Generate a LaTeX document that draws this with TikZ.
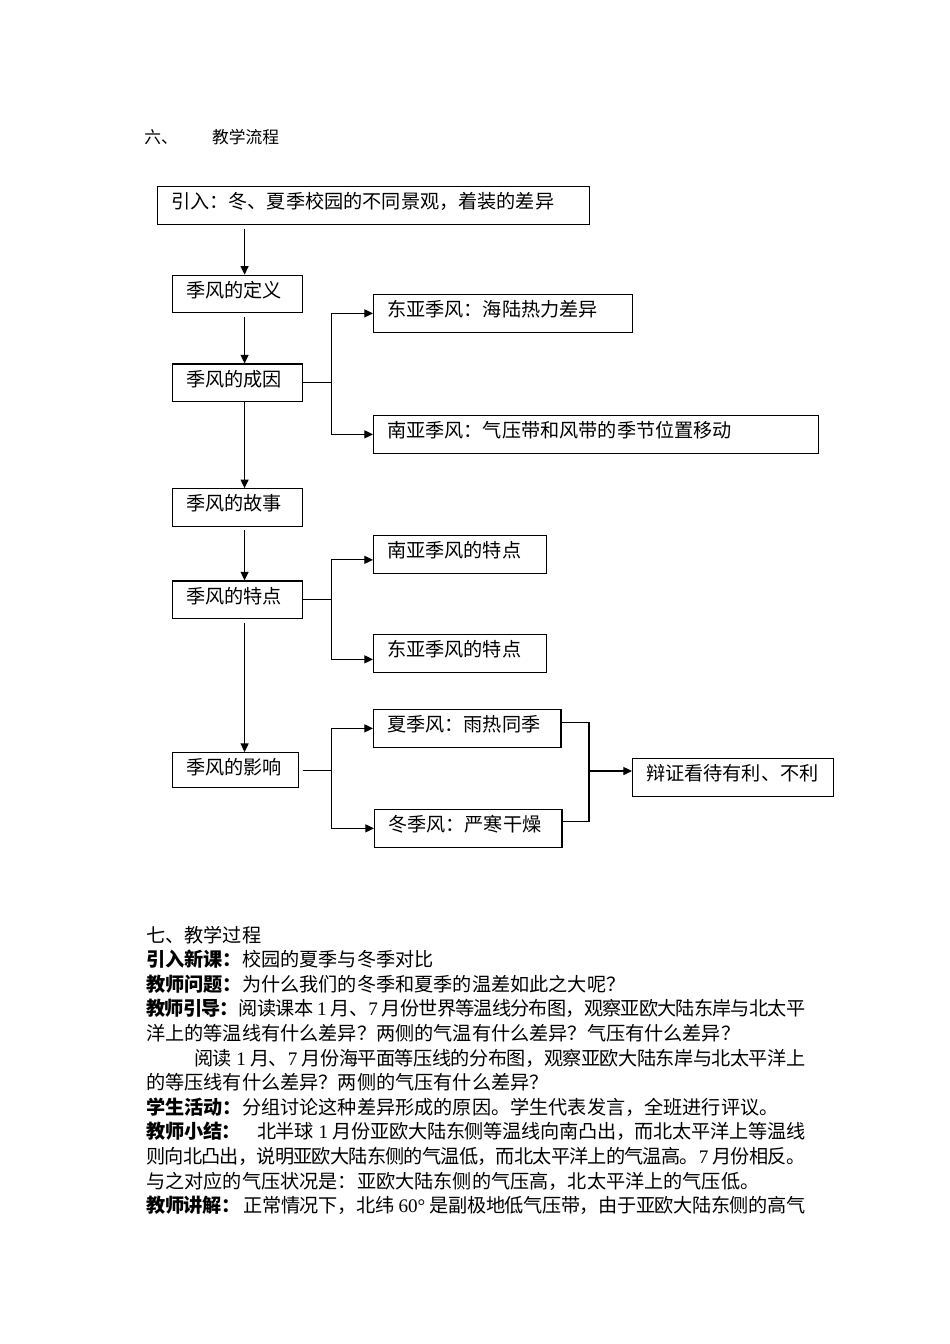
\documentclass[tikz,border=0pt]{standalone}
\usepackage{fontspec}
\setmainfont{Noto Sans CJK SC}
\newfontfamily\latinfont{Liberation Serif}
\usepackage{tikz}
\usetikzlibrary{arrows.meta}
\usetikzlibrary{positioning}
% glue between CJK characters, so that full lines can be set to the text width
\count255="4E00
\loop
  \XeTeXcharclass\count255=1
  \advance\count255 by 1
\ifnum\count255<"A000 \repeat
\XeTeXcharclass"FF0C=3 \XeTeXcharclass"FF1A=3 \XeTeXcharclass"FF1F=3
\XeTeXcharclass"3001=3 \XeTeXcharclass"3002=3
\XeTeXinterchartokenstate=1
\XeTeXinterchartoks 1 1 = {\hskip 0pt plus 1.5pt minus 1pt}
\XeTeXinterchartoks 1 3 = {\hskip 0pt plus 1.5pt minus 1pt}
\XeTeXinterchartoks 3 1 = {\hskip 0pt plus 1.5pt minus 1pt}
\XeTeXinterchartoks 3 3 = {\hskip 0pt plus 1.5pt minus 1pt}
\newcommand{\pu}{0.6263pt}
\newdimen\fullwd \fullwd=412.7pt
\newdimen\indentwd \indentwd=382.7pt
\newcommand{\digit}[1]{{\latinfont #1}}
\tikzset{flow-line/.style={line width=0.75pt}}
\tikzset{flow-arrow/.style={flow-line, -{Triangle[length=5.4pt, width=5pt]}}}
\tikzset{flow-box/.style={
    draw,
    line width=0.75pt,
    inner xsep=8.45pt,
    inner ysep=0,
    text height=13.8pt,
    text depth=9.7pt,
    anchor=north west,
    font=\fontsize{12pt}{14pt}\selectfont
}}
\tikzset{body-line/.style={anchor=base west, inner sep=0, font=\fontsize{12pt}{14pt}\selectfont}}
\begin{document}
\begin{tikzpicture}[x=\pu, y=-\pu]
            \useasboundingbox (0,0) rectangle (950,1344);
            \node[body-line, font=\fontsize{10.5pt}{12pt}\selectfont] (flow-no) at (144,143.1) {六、};
            \node[body-line, font=\fontsize{10.5pt}{12pt}\selectfont] (flow-title) at (211.7,143.1) {教学流程};

            % main column
            \node[flow-box, text width=253.7pt] (intro) at (157,186) {引入：冬、夏季校园的不同景观，着装的差异};
            \node[flow-box, text width=64.5pt, below=50*\pu of intro.south west, anchor=north west, xshift=15*\pu] (def) {季风的定义};
            \node[flow-box, text width=64.5pt, below=50*\pu of def.south west, anchor=north west] (cause) {季风的成因};
            \node[flow-box, text width=64.5pt, below=86*\pu of cause.south west, anchor=north west] (story) {季风的故事};
            \node[flow-box, text width=64.5pt, below=53.5*\pu of story.south west, anchor=north west] (feat) {季风的特点};
            \node[flow-box, text width=62pt, text depth=8.2pt, below=133*\pu of feat.south west, anchor=north west] (effect) {季风的影响};

            % branches
            \node[flow-box, text width=145.3pt] (eastcause) at (373,294) {东亚季风：海陆热力差异};
            \node[flow-box, text width=261.8pt] (southcause) at (373,415) {南亚季风：气压带和风带的季节位置移动};
            \node[flow-box, text width=91.4pt] (southfeat) at (373,535) {南亚季风的特点};
            \node[flow-box, text width=91.4pt] (eastfeat) at (373,634) {东亚季风的特点};
            \node[flow-box, text width=100.5pt] (summer) at (373,709) {夏季风：雨热同季};
            \node[flow-box, text width=100.5pt] (winter) at (374,809) {冬季风：严寒干燥};
            \node[flow-box, text width=109pt] (verdict) at (632,758) {辩证看待有利、不利};
            \coordinate (merge) at (589,771);

            \draw[flow-arrow, shorten <=4*\pu] ([xshift=7*\pu]def.north |- intro.south) -- ([xshift=7*\pu]def.north);
            \draw[flow-arrow, shorten <=4*\pu] ([xshift=7*\pu]def.south) -- ([xshift=7*\pu]cause.north);
            \draw[flow-arrow] ([xshift=7*\pu]cause.south) -- ([xshift=7*\pu]story.north);
            \draw[flow-arrow, shorten <=3*\pu] ([xshift=7*\pu]story.south) -- ([xshift=7*\pu]feat.north);
            \draw[flow-arrow, shorten <=4*\pu] ([xshift=7*\pu]feat.south) -- ([xshift=7*\pu]feat.south |- effect.north);

            \draw[flow-arrow] (cause.east) -- ++(28,0) |- (eastcause.west);
            \draw[flow-arrow] (cause.east) -- ++(28,0) |- (southcause.west);
            \draw[flow-arrow] (feat.east) -- ++(28,0) |- ([yshift=-5.5*\pu]southfeat.west);
            \draw[flow-arrow] (feat.east) -- ++(28,0) |- ([yshift=-6*\pu]eastfeat.west);
            \draw[flow-arrow, shorten <=3.5*\pu] (effect.east) -- ++(32,0) |- (summer.west);
            \draw[flow-arrow, shorten <=3.5*\pu] (effect.east) -- ++(32,0) |- (winter.west);

            \draw[flow-line] ([yshift=6*\pu]summer.east) -| (merge);
            \draw[flow-line] ([yshift=7*\pu]winter.east) -| (merge);
            \draw[flow-arrow] (merge) -- (merge -| verdict.west);

            % teaching process
            \node[body-line] (proc-title) at (146,942) {七、教学过程};
            \node[body-line] (lead-in) at (146,966.6) {\textbf{引入新课：}校园的夏季与冬季对比};
            \node[body-line] (question) at (146,991.2) {\textbf{教师问题：}为什么我们的冬季和夏季的温差如此之大呢？};
            \node[body-line] (guide-a) at (146,1015.8) {\hbox to\fullwd{\textbf{教师引导：}阅读课本\digit{\ 1\ }月、\digit{7\ }月份世界等温线分布图，观察亚欧大陆东岸与北太平}};
            \node[body-line] (guide-b) at (146,1040.4) {洋上的等温线有什么差异？两侧的气温有什么差异？气压有什么差异？};
            \node[body-line] (guide-c) at (194,1065) {\hbox to\indentwd{阅读\digit{\ 1\ }月、\digit{7\ }月份海平面等压线的分布图，观察亚欧大陆东岸与北太平洋上}};
            \node[body-line] (guide-d) at (146,1089.6) {的等压线有什么差异？两侧的气压有什么差异？};
            \node[body-line] (activity) at (146,1114.2) {\textbf{学生活动：}分组讨论这种差异形成的原因。学生代表发言，全班进行评议。};
            \node[body-line] (summary-a) at (146,1138.8) {\hbox to\fullwd{\textbf{教师小结：}\hspace{10pt}北半球\digit{\ 1\ }月份亚欧大陆东侧等温线向南凸出，而北太平洋上等温线}};
            \node[body-line] (summary-b) at (146,1163.4) {\hbox to\fullwd{则向北凸出，说明亚欧大陆东侧的气温低，而北太平洋上的气温高。\digit{7\ }月份相反。}};
            \node[body-line] (summary-c) at (146,1188) {与之对应的气压状况是：亚欧大陆东侧的气压高，北太平洋上的气压低。};
            \node[body-line] (lecture) at (146,1212.6) {\hbox to\fullwd{\textbf{教师讲解：}\hspace{2pt}正常情况下，北纬\digit{\ 60°\ }是副极地低气压带，由于亚欧大陆东侧的高气}};
        \end{tikzpicture}
\end{document}
